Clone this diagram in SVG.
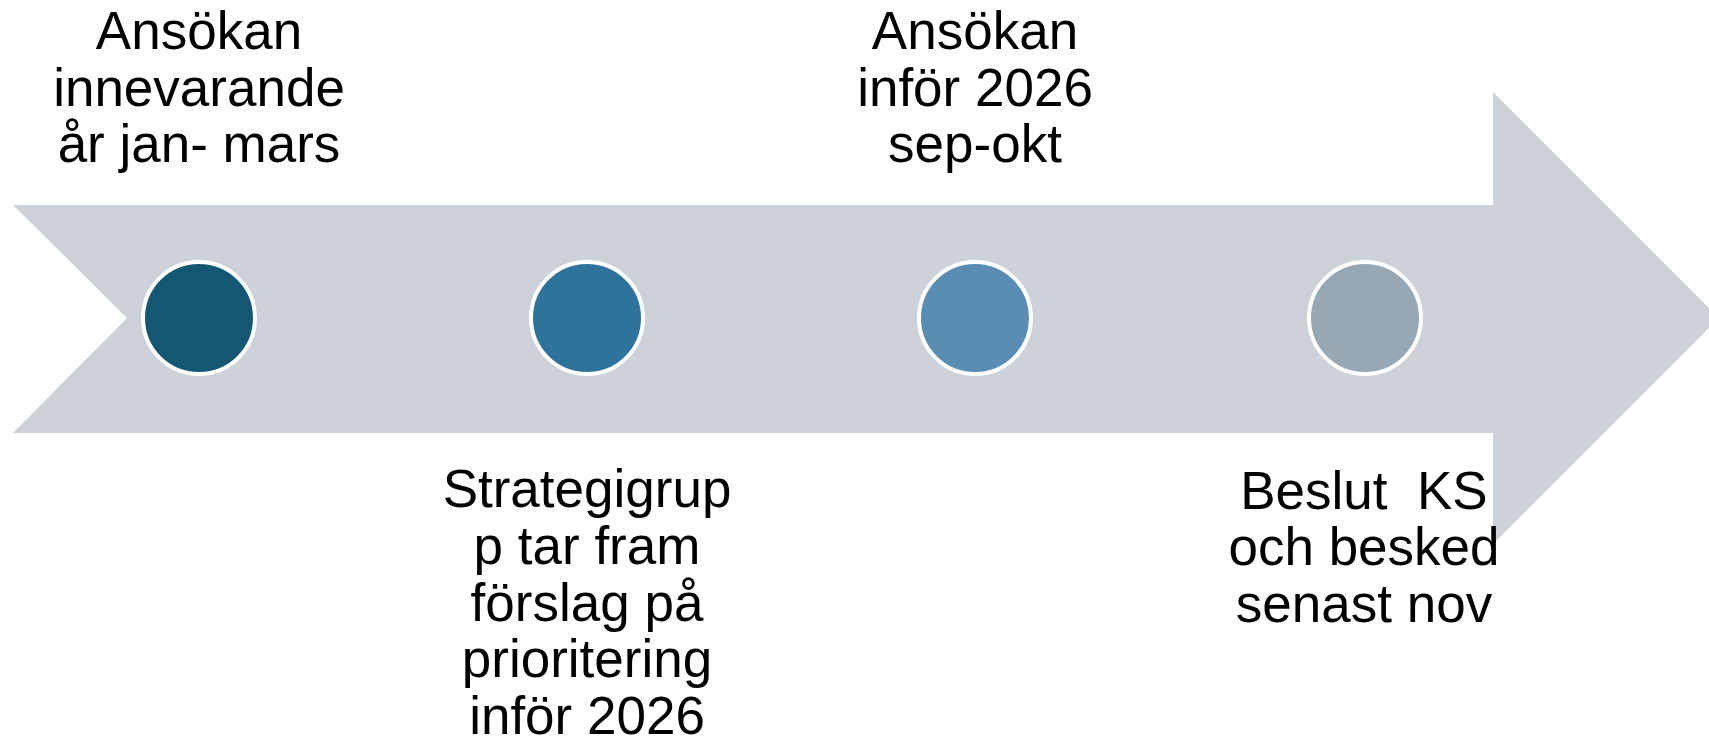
<svg xmlns="http://www.w3.org/2000/svg" width="1709" height="744" viewBox="0 0 1709 744">
<style>
.lbl{font-family:"Liberation Sans",Arial,sans-serif;font-size:53px;fill:#000;text-anchor:middle;white-space:pre}
.dot{stroke:#fff;stroke-width:4}
</style>
<rect width="1709" height="744" fill="#fff"/>
<g id="arrow">
<polygon points="13,205 1493,205 1493,92 1719,318 1493,544 1493,433 13,433 127,318" fill="#cdd2d8"/>
</g>
<g id="connectors"></g>
<g id="node1">
<circle class="dot" cx="199" cy="318" r="56" fill="#135773"/>
<text class="lbl" x="199" y="49">Ansökan</text>
<text class="lbl" x="199" y="105.5">innevarande</text>
<text class="lbl" x="199" y="162">år jan- mars</text>
</g>
<g id="node2">
<circle class="dot" cx="587" cy="318" r="56" fill="#2e739c"/>
<text class="lbl" x="587" y="507">Strategigrup</text>
<text class="lbl" x="587" y="564">p tar fram</text>
<text class="lbl" x="587" y="621">förslag på</text>
<text class="lbl" x="587" y="677">prioritering</text>
<text class="lbl" x="587" y="734">inför 2026</text>
</g>
<g id="node3">
<circle class="dot" cx="975" cy="318" r="56" fill="#5a8db3"/>
<text class="lbl" x="975" y="49">Ansökan</text>
<text class="lbl" x="975" y="105.5">inför 2026</text>
<text class="lbl" x="975" y="162">sep-okt</text>
</g>
<g id="node4">
<circle class="dot" cx="1365" cy="318" r="56" fill="#96a7b6"/>
<text class="lbl" x="1364" y="509" xml:space="preserve">Beslut  KS</text>
<text class="lbl" x="1364" y="565">och besked</text>
<text class="lbl" x="1364" y="622">senast nov</text>
</g>
</svg>
